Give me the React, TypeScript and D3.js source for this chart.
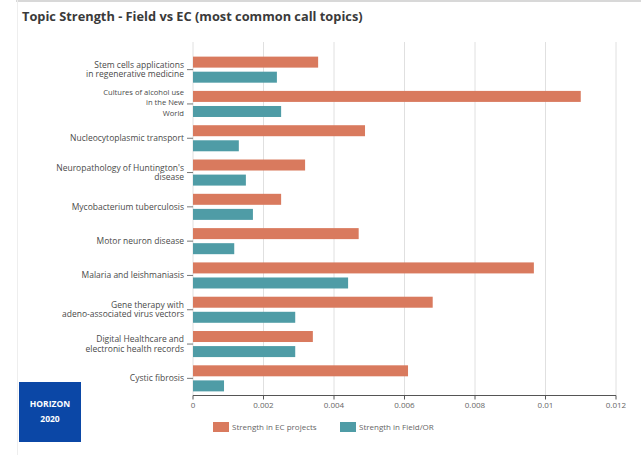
import React from "react";
import * as d3 from "d3";

const categories = [
  "stem", "alcohol", "nucleo", "huntington", "myco", "motor", "malaria", "gene", "digital", "cystic",
];
const labelLines = [
  ["Stem cells applications", "in regenerative medicine"],
  ["Cultures of alcohol use", "in the New", "World"],
  ["Nucleocytoplasmic transport"],
  ["Neuropathology of Huntington's", "disease"],
  ["Mycobacterium tuberculosis"],
  ["Motor neuron disease"],
  ["Malaria and leishmaniasis"],
  ["Gene therapy with", "adeno-associated virus vectors"],
  ["Digital Healthcare and", "electronic health records"],
  ["Cystic fibrosis"],
];
const ecValues = [0.00355, 0.011, 0.00488, 0.00318, 0.0025, 0.0047, 0.00967, 0.0068, 0.0034, 0.0061];
const fieldValues = [0.00238, 0.0025, 0.0013, 0.0015, 0.0017, 0.00117, 0.0044, 0.0029, 0.0029, 0.00088];
const tickValues = [0, 0.002, 0.004, 0.006, 0.008, 0.01, 0.012];
const tickLabels = ["0", "0.002", "0.004", "0.006", "0.008", "0.01", "0.012"];
const seriesKeys = ["ec", "field"];
const seriesNames = ["Strength in EC projects", "Strength in Field/OR"];
const title = "Topic Strength - Field vs EC (most common call topics)";

const EC_COLOR = "#d97a5e";
const FIELD_COLOR = "#4f9ca6";
const FONT = "'Open Sans', 'DejaVu Sans', sans-serif";

export default function App() {
  const W = 641;
  const H = 455;
  const x = d3.scaleLinear().domain([0, 0.012]).range([193, 616]);
  const y = d3
    .scaleBand<string>()
    .domain(categories)
    .range([52.5, 395.5])
    .paddingInner(0.24)
    .paddingOuter(0.12);
  const sub = d3
    .scaleBand<string>()
    .domain(seriesKeys)
    .range([0, y.bandwidth()])
    .paddingInner(0.27);
  const color = d3.scaleOrdinal<string, string>().domain(seriesKeys).range([EC_COLOR, FIELD_COLOR]);
  const axisY = 395.5;
  const gridTop = 42;

  return (
    <svg
      width={W}
      height={H}
      style={{ position: "absolute", left: 0, top: 0, background: "#fff" }}
      fontFamily={FONT}
    >
      <rect x={0} y={0} width={W} height={H} fill="#fff" />
      <line x1={16} x2={W} y1={1} y2={1} stroke="#d8d8d8" strokeWidth={2} />
      <line x1={17.5} x2={17.5} y1={0} y2={H} stroke="#eeeeee" strokeWidth={1} />

      <text x={22} y={21} fontSize={12.8} fontWeight="bold" fill="#3a3a3a">
        {title}
      </text>

      {tickValues.map((t, i) => (
        <line
          key={"g" + i}
          x1={x(t)}
          x2={x(t)}
          y1={gridTop}
          y2={axisY}
          stroke="#e0e0e0"
          strokeWidth={1}
        />
      ))}

      {categories.map((c, i) => {
        const vals = [ecValues[i], fieldValues[i]];
        return (
          <g key={c}>
            {seriesKeys.map((k, j) => (
              <rect
                key={k}
                x={x(0)}
                y={(y(c) as number) + (sub(k) as number)}
                width={x(vals[j]) - x(0)}
                height={sub.bandwidth()}
                fill={color(k)}
              />
            ))}
          </g>
        );
      })}

      {categories.map((c, i) => {
        const cy = (y(c) as number) + y.bandwidth() / 2;
        const lines = labelLines[i];
        const three = lines.length === 3;
        const lh = three ? 10.2 : 9.5;
        const fs = three ? 7.6 : 8.5;
        const start = three ? cy - 11.5 : cy - ((lines.length - 1) * lh) / 2;
        return (
          <g key={"yl" + c}>
            <line x1={187} x2={193} y1={cy} y2={cy} stroke="#777" strokeWidth={1} />
            <text textAnchor="end" fontSize={fs} fill="#4a4a4a">
              {lines.map((ln, k) => (
                <tspan key={k} x={184} y={start + k * lh} dy="0.35em">
                  {ln}
                </tspan>
              ))}
            </text>
          </g>
        );
      })}

      <line x1={x(0)} x2={x(0.012)} y1={axisY} y2={axisY} stroke="#555" strokeWidth={1} />
      {tickValues.map((t, i) => (
        <g key={"xt" + i}>
          <line x1={x(t)} x2={x(t)} y1={axisY} y2={axisY + 4} stroke="#555" strokeWidth={1} />
          <text x={x(t)} y={axisY + 10} dy="0.35em" textAnchor="middle" fontSize={8} fill="#666">
            {tickLabels[i]}
          </text>
        </g>
      ))}

      {seriesKeys.map((k, i) => {
        const lx = i === 0 ? 213 : 340;
        return (
          <g key={"lg" + k}>
            <rect x={lx} y={422} width={16} height={10} fill={color(k)} />
            <text x={lx + 19} y={427} dy="0.35em" fontSize={8} fill="#666">
              {seriesNames[i]}
            </text>
          </g>
        );
      })}

      <rect x={19} y={382} width={62} height={60} fill="#0b47a6" />
      <text x={50} y={404} dy="0.35em" textAnchor="middle" fontSize={8.5} fontWeight="bold" fill="#fff">
        HORIZON
      </text>
      <text x={50} y={419} dy="0.35em" textAnchor="middle" fontSize={8.5} fontWeight="bold" fill="#fff">
        2020
      </text>
    </svg>
  );
}
